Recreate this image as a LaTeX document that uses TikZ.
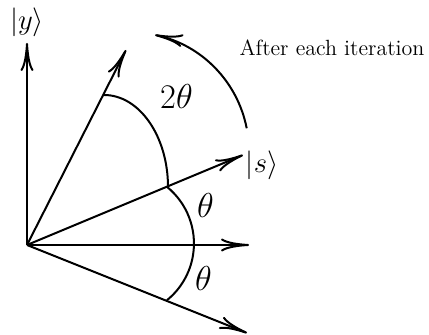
\documentclass[tikz,border=0pt]{standalone}
\usetikzlibrary{arrows.meta}
\begin{document}
\begin{tikzpicture}[x=0.5pt,y=0.5pt,
  vec/.style={line width=1pt,-{To[length=14pt,width=6.5pt]}},
  curve/.style={line width=1pt},
  mlabel/.style={inner sep=0pt,font=\fontsize{14}{16}\selectfont},
  alabel/.style={inner sep=0pt,font=\fontsize{16}{18}\selectfont},
  tlabel/.style={inner sep=0pt,font=\fontsize{11}{13}\selectfont}]
\useasboundingbox (0,0) rectangle (429,335);
\coordinate (O) at (27,90);
\coordinate (ytip) at (27,292);
\coordinate (utip) at (126,285);
\coordinate (stip) at (243,180);
\coordinate (htip) at (249,90);
\coordinate (ltip) at (247,2);
\draw[vec] (O) -- (ytip);
\draw[vec] (O) -- (utip);
\draw[vec] (O) -- (stip);
\draw[vec] (O) -- (htip);
\draw[vec] (O) -- (ltip);
\node[mlabel] (ylab) at (27,313) {$|y\rangle$};
\node[mlabel] (slab) at (262,170) {$|s\rangle$};
\node[alabel] (th1) at (205.5,129) {$\theta$};
\node[alabel] (th2) at (203.5,56) {$\theta$};
\node[alabel] (th3) at (176.5,238) {$2\theta$};
\node[tlabel] (txt) at (332,287) {After each iteration};
% 2theta arc
\coordinate (Aup) at (104,240);
\draw[curve] (Aup) arc[start angle=90,end angle=0,x radius=64,y radius=92];
% theta arcs
\coordinate (As) at (166.9,148.2);
\draw[curve] (As) arc[start angle=51,end angle=-51,radius=73];
% iteration arrow
\coordinate (P1) at (246.7,206.7);
\draw[line width=1pt,-{To[length=14pt,width=6.5pt]}] (P1) arc[start angle=11,end angle=78,radius=118.5];
\end{tikzpicture}
\end{document}
